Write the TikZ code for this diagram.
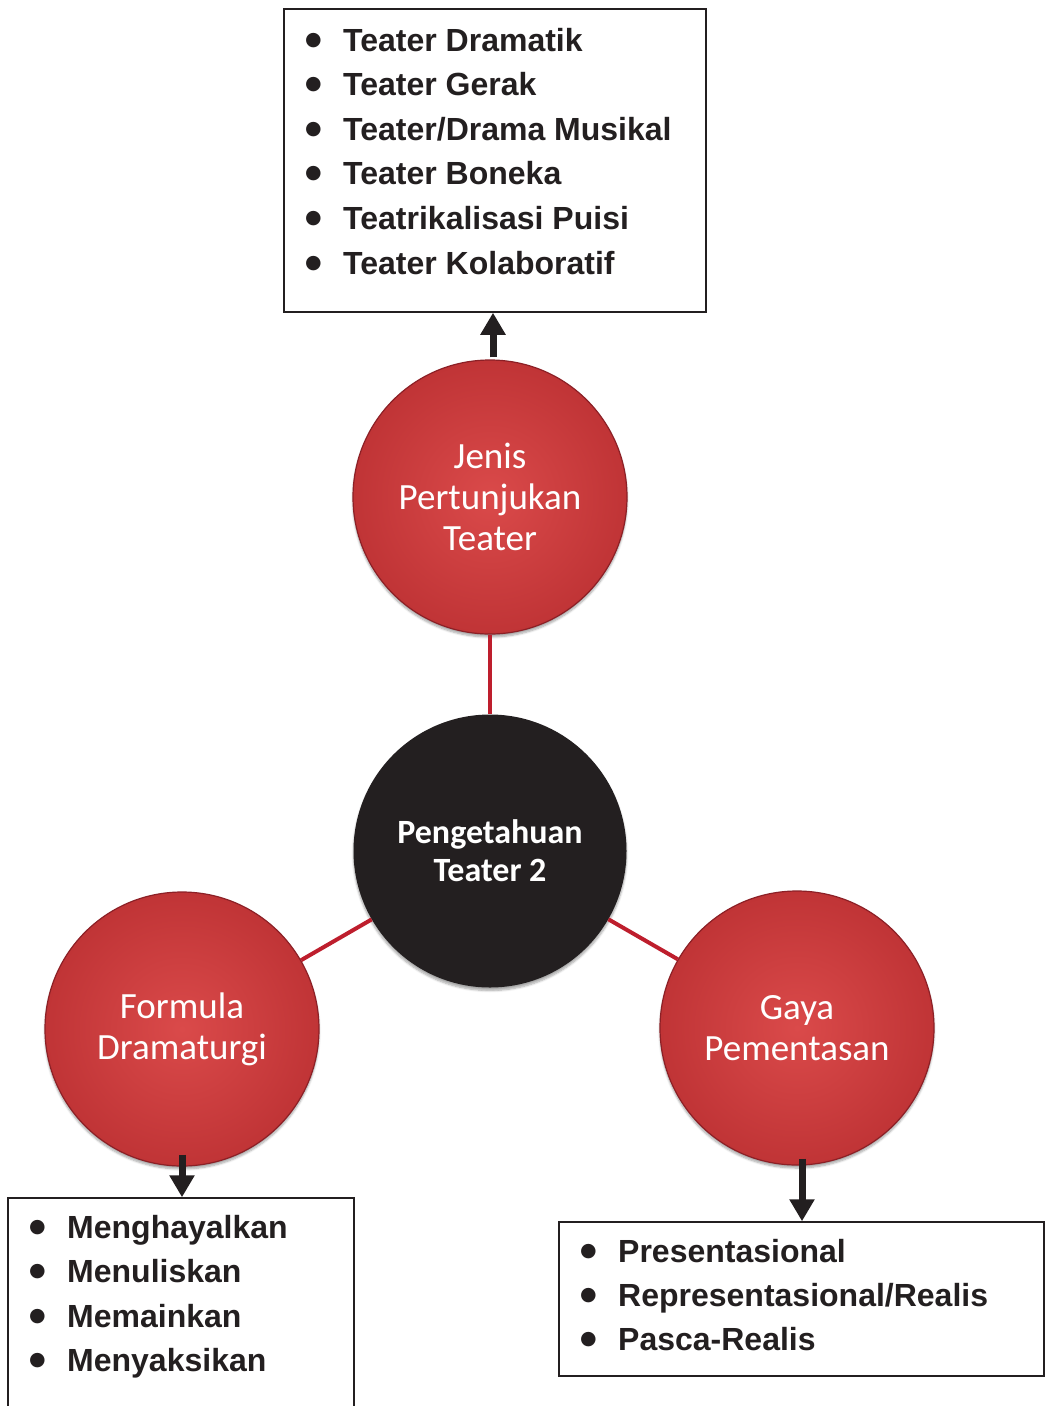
\documentclass[tikz,border=0pt]{standalone}
\usepackage{fontspec}
\setmainfont{Liberation Sans}
\newfontfamily\calfont{Carlito}
\newfontfamily\symfont{DejaVu Sans}
\usetikzlibrary{arrows.meta,shadows.blur}
\definecolor{ink}{HTML}{231F20}
\definecolor{redin}{RGB}{218,74,74}
\definecolor{redout}{RGB}{192,52,54}
\definecolor{redrim}{RGB}{140,32,38}
\definecolor{linkred}{RGB}{190,30,45}
\newcommand\bulmark{\makebox[38pt][l]{\raisebox{6pt}{\symfont\fontsize{19}{19}\selectfont ●}}}
\begin{document}
\begin{tikzpicture}[x=1pt,y=-1pt,
  redball/.style={circle, minimum size=274pt, inner sep=0pt,
    inner color=redin, outer color=redout, draw=redrim, line width=1.2pt,
    text=white, align=center, font=\calfont\fontsize{37}{41}\selectfont,
    blur shadow={shadow xshift=0pt, shadow yshift=-3pt, shadow blur steps=6, shadow opacity=35}},
  blackball/.style={circle, minimum size=273pt, inner sep=0pt, fill=ink,
    text=white, align=center, font=\calfont\bfseries\fontsize{34}{38}\selectfont,
    blur shadow={shadow xshift=0pt, shadow yshift=-3pt, shadow blur steps=6, shadow opacity=35}},
  listbox/.style={rectangle, draw=ink, line width=1.5pt, inner sep=0pt, fill=white},
  item/.style={anchor=base west, inner sep=0pt, text=ink, font=\bfseries\fontsize{32}{36}\selectfont},
  link/.style={draw=linkred, line width=4pt},
  arr/.style={draw=ink, line width=7pt, -{Triangle[width=24pt,length=22pt]}}
]
\useasboundingbox (0,0) rectangle (1052,1406);
\clip (0,0) rectangle (1052,1406);

% boxes
\node[listbox, minimum width=422pt, minimum height=303pt] (topbox) at (495,160.5) {};
\node[listbox, minimum width=346pt, minimum height=230pt] (blbox) at (181,1313) {};
\node[listbox, minimum width=485pt, minimum height=154pt] (brbox) at (801.5,1299) {};

% circles
\node[redball] (jenis) at (490,497) {Jenis\\Pertunjukan\\Teater};
\node[redball] (formula) at (182,1029) {Formula\\Dramaturgi};
\node[redball] (gaya) at (797,1028) {Gaya\\Pementasan};
\node[blackball] (pusat) at (490,851) {Pengetahuan\\Teater 2};

% links
\draw[link] (jenis) -- (pusat);
\draw[link] (pusat) -- (formula);
\draw[link] (pusat) -- (gaya);

% arrows
\draw[arr] ([xshift=3pt,yshift=2pt]jenis.north) -- ([xshift=3pt]jenis.north |- topbox.south);
\draw[arr] ([yshift=12pt]formula.south) -- (formula.south |- blbox.north);
\draw[arr] ([xshift=5pt,yshift=7pt]gaya.south) -- ([xshift=5pt]gaya.south |- brbox.north);

% list items
\foreach \t [count=\i] in {Teater Dramatik,Teater Gerak,Teater/Drama Musikal,Teater Boneka,Teatrikalisasi Puisi,Teater Kolaboratif}{
  \node[item] (ti\i) at (305,{51+44.6*(\i-1)}) {\bulmark\t};
}
\foreach \t [count=\i] in {Menghayalkan,Menuliskan,Memainkan,Menyaksikan}{
  \node[item] (li\i) at (29,{1238+44.6*(\i-1)}) {\bulmark\t};
}
\foreach \t [count=\i] in {Presentasional,Representasional/Realis,Pasca-Realis}{
  \node[item] (ri\i) at (580,{1262+44*(\i-1)}) {\bulmark\t};
}
\end{tikzpicture}
\end{document}
